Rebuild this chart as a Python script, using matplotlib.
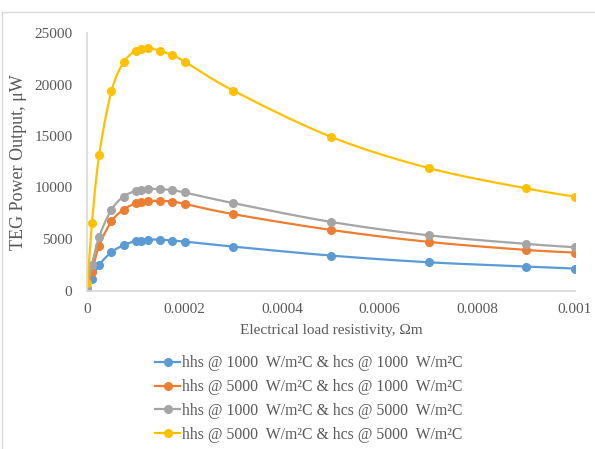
import numpy as np
import matplotlib
matplotlib.use('Agg')
import matplotlib.pyplot as plt
from matplotlib.patches import Rectangle

plt.rcParams['font.family'] = ['Liberation Serif', 'DejaVu Serif']

# load resistivity (ohm m)
resistivity = [1e-6, 1e-5, 2.5e-5, 5e-5, 7.5e-5, 1e-4, 1.1e-4, 1.25e-4, 1.5e-4,
               1.75e-4, 2e-4, 3e-4, 5e-4, 7e-4, 9e-4, 1e-3]

# power output (uW) for each pair of heat transfer coefficients
p_h1000_c1000 = [110, 1090, 2480, 3715, 4400, 4815, 4845, 4940, 4940,
                 4845, 4750, 4260, 3390, 2740, 2330, 2130]
p_h5000_c1000 = [190, 1830, 4360, 6700, 7860, 8480, 8580, 8680, 8700,
                 8640, 8410, 7410, 5880, 4720, 3940, 3680]
p_h1000_c5000 = [250, 2480, 5235, 7830, 9125, 9680, 9780, 9875, 9840,
                 9745, 9515, 8480, 6660, 5360, 4525, 4200]
p_h5000_c5000 = [700, 6540, 13180, 19340, 22160, 23300, 23460, 23520, 23270,
                 22840, 22230, 19400, 14920, 11890, 9910, 9110]

series = [
    (p_h1000_c1000, '#5B9BD5', 'hhs @ 1000  W/m\u00b2C & hcs @ 1000  W/m\u00b2C'),
    (p_h5000_c1000, '#ED7D31', 'hhs @ 5000  W/m\u00b2C & hcs @ 1000  W/m\u00b2C'),
    (p_h1000_c5000, '#A5A5A5', 'hhs @ 1000  W/m\u00b2C & hcs @ 5000  W/m\u00b2C'),
    (p_h5000_c5000, '#FFC000', 'hhs @ 5000  W/m\u00b2C & hcs @ 5000  W/m\u00b2C'),
]

XMAX, YMAX = 0.001, 25000


def smooth(x, y, n=20):
    # Catmull-Rom curve through the points, done in axis-normalised space
    px = np.asarray(x) / XMAX
    py = np.asarray(y) / YMAX * 0.53
    px = np.concatenate([[px[0]], px, [px[-1]]])
    py = np.concatenate([[py[0]], py, [py[-1]]])
    t = np.linspace(0, 1, n)[:, None]
    xs, ys = [], []
    for i in range(1, len(px) - 2):
        p0, p1, p2, p3 = [np.array([px[j], py[j]]) for j in range(i - 1, i + 3)]
        c1 = p1 + (p2 - p0) / 6
        c2 = p2 - (p3 - p1) / 6
        pts = ((1 - t) ** 3 * p1 + 3 * (1 - t) ** 2 * t * c1
               + 3 * (1 - t) * t ** 2 * c2 + t ** 3 * p2)
        xs.append(pts[:, 0])
        ys.append(pts[:, 1])
    return np.concatenate(xs) * XMAX, np.concatenate(ys) / 0.53 * YMAX


fig = plt.figure(figsize=(5.95, 4.49), dpi=100)
ax = fig.add_axes([87 / 595, 1 - 290.5 / 449, 488 / 595, 257.5 / 449])

for values, color, label in series:
    sx, sy = smooth(resistivity, values)
    ax.plot(sx, sy, color=color, lw=1.6, solid_capstyle='round')
    ax.plot(resistivity, values, 'o', color=color, ms=5.5, ls='none')
    ax.plot([], [], color=color, lw=1.6, marker='o', ms=5.5, label=label)

ax.set_xlim(0, XMAX)
ax.set_ylim(0, YMAX)
ax.set_xticks([0, 0.0002, 0.0004, 0.0006, 0.0008, 0.001])
ax.set_xticklabels(['0', '0.0002', '0.0004', '0.0006', '0.0008', '0.001'])
ax.set_yticks(range(0, 25001, 5000))
ax.tick_params(length=0, labelsize=11, colors='#595959', pad=9)
ax.tick_params(axis='y', pad=10.5)
for side in ['top', 'right']:
    ax.spines[side].set_visible(False)
for side in ['left', 'bottom']:
    ax.spines[side].set_color('#d9d9d9')
    ax.spines[side].set_linewidth(1.2)

ax.set_xlabel('Electrical load resistivity, \u03a9m', fontsize=11, color='#595959', labelpad=6)
ax.set_ylabel('TEG Power Output, \u03bcW', fontsize=13, color='#595959', labelpad=5)

handles, labels = ax.get_legend_handles_labels()
leg = fig.legend(handles, labels, loc='center', bbox_to_anchor=(309 / 595, 1 - 399 / 449),
                 frameon=False, fontsize=11.3, handlelength=1.6, handletextpad=0.15,
                 labelspacing=0.5)
for txt in leg.get_texts():
    txt.set_color('#595959')

# outer chart frame
fig.patches.append(Rectangle((2 / 595, -0.1), 1.2, 1 - 12 / 449 + 0.1,
                             transform=fig.transFigure, fill=False,
                             edgecolor='#d9d9d9', lw=1.0))

fig.savefig('out.png', dpi=100)
